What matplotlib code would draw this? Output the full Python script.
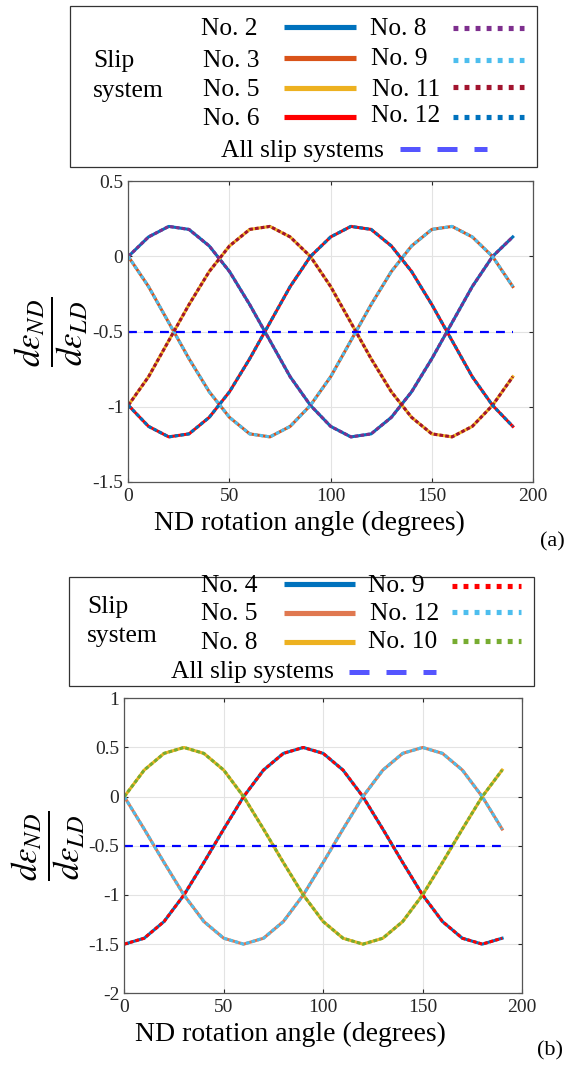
import matplotlib
matplotlib.use('Agg')
import matplotlib.pyplot as plt
from matplotlib.lines import Line2D
from matplotlib.patches import Rectangle
from matplotlib.ticker import FormatStrFormatter

plt.rcParams['font.family'] = ['Liberation Serif', 'DejaVu Serif']
plt.rcParams['mathtext.fontset'] = 'stix'
plt.rcParams['axes.unicode_minus'] = False

# ---------------- data ----------------
angles = [0, 10, 20, 30, 40, 50, 60, 70, 80, 90,
          100, 110, 120, 130, 140, 150, 160, 170, 180, 190]

# panel (a)
a_no2 = [0.00, 0.13, 0.20, 0.18, 0.07, -0.10, -0.32, -0.56, -0.80, -0.99,
         -1.13, -1.20, -1.18, -1.07, -0.90, -0.68, -0.44, -0.20, 0.00, 0.13]
a_no8 = [0.00, 0.13, 0.20, 0.18, 0.07, -0.10, -0.32, -0.56, -0.80, -0.99,
         -1.13, -1.20, -1.18, -1.07, -0.90, -0.68, -0.44, -0.20, 0.00, 0.13]
a_no3 = [0.00, -0.20, -0.44, -0.68, -0.90, -1.07, -1.18, -1.20, -1.13, -0.99,
         -0.80, -0.56, -0.32, -0.10, 0.07, 0.18, 0.20, 0.13, 0.00, -0.20]
a_no9 = [0.00, -0.20, -0.44, -0.68, -0.90, -1.07, -1.18, -1.20, -1.13, -0.99,
         -0.80, -0.56, -0.32, -0.10, 0.07, 0.18, 0.20, 0.13, 0.00, -0.20]
a_no5 = [-0.99, -0.80, -0.56, -0.32, -0.10, 0.07, 0.18, 0.20, 0.13, 0.00,
         -0.20, -0.44, -0.68, -0.90, -1.07, -1.18, -1.20, -1.13, -0.99, -0.80]
a_no11 = [-0.99, -0.80, -0.56, -0.32, -0.10, 0.07, 0.18, 0.20, 0.13, 0.00,
          -0.20, -0.44, -0.68, -0.90, -1.07, -1.18, -1.20, -1.13, -0.99, -0.80]
a_no6 = [-0.99, -1.13, -1.20, -1.18, -1.07, -0.90, -0.68, -0.44, -0.20, 0.00,
         0.13, 0.20, 0.18, 0.07, -0.10, -0.32, -0.56, -0.80, -0.99, -1.13]
a_no12 = [-0.99, -1.13, -1.20, -1.18, -1.07, -0.90, -0.68, -0.44, -0.20, 0.00,
          0.13, 0.20, 0.18, 0.07, -0.10, -0.32, -0.56, -0.80, -0.99, -1.13]
a_all = [-0.5] * 20

# panel (b)
b_no4 = [-1.50, -1.44, -1.27, -1.00, -0.67, -0.33, 0.00, 0.27, 0.44, 0.50,
         0.44, 0.27, 0.00, -0.33, -0.67, -1.00, -1.27, -1.44, -1.50, -1.44]
b_no9 = [-1.50, -1.44, -1.27, -1.00, -0.67, -0.33, 0.00, 0.27, 0.44, 0.50,
         0.44, 0.27, 0.00, -0.33, -0.67, -1.00, -1.27, -1.44, -1.50, -1.44]
b_no5 = [0.00, -0.33, -0.67, -1.00, -1.27, -1.44, -1.50, -1.44, -1.27, -1.00,
         -0.67, -0.33, 0.00, 0.27, 0.44, 0.50, 0.44, 0.27, 0.00, -0.33]
b_no12 = [0.00, -0.33, -0.67, -1.00, -1.27, -1.44, -1.50, -1.44, -1.27, -1.00,
          -0.67, -0.33, 0.00, 0.27, 0.44, 0.50, 0.44, 0.27, 0.00, -0.33]
b_no8 = [0.00, 0.27, 0.44, 0.50, 0.44, 0.27, 0.00, -0.33, -0.67, -1.00,
         -1.27, -1.44, -1.50, -1.44, -1.27, -1.00, -0.67, -0.33, 0.00, 0.27]
b_no10 = [0.00, 0.27, 0.44, 0.50, 0.44, 0.27, 0.00, -0.33, -0.67, -1.00,
          -1.27, -1.44, -1.50, -1.44, -1.27, -1.00, -0.67, -0.33, 0.00, 0.27]
b_all = [-0.5] * 20

a_xticks = [0, 50, 100, 150, 200]
a_yticks = [-1.5, -1, -0.5, 0, 0.5]
b_xticks = [0, 50, 100, 150, 200]
b_yticks = [-2, -1.5, -1, -0.5, 0, 0.5, 1]

xlabel = 'ND rotation angle (degrees)'
ylabel = r'$\dfrac{d\varepsilon_{ND}}{d\varepsilon_{LD}}$'

# ---------------- styles ----------------
BLUE = '#0072BD'
ORANGE = '#D95319'
ORANGE_B = '#E07850'
YELLOW = '#EDB120'
PURPLE = '#7E2F8E'
GREEN = '#77AC30'
LBLUE = '#4DBEEE'
DRED = '#A2142F'
RED = '#FF0000'
ALLC = '#0000FF'
ALLC_LEG = '#5555FF'

W, H = 568, 1066
fig = plt.figure(figsize=(W / 100, H / 100), dpi=100)

LW = 2.2
DOT = (0, (1.2, 0.7))


def setup_axes(ax, xticks, yticks, ylim):
    ax.set_xlim(0, 200)
    ax.set_ylim(*ylim)
    ax.set_xticks(xticks)
    ax.set_yticks(yticks)
    ax.xaxis.set_major_formatter(FormatStrFormatter('%g'))
    ax.yaxis.set_major_formatter(FormatStrFormatter('%g'))
    ax.grid(True, color='#E3E3E3', lw=0.8)
    ax.set_axisbelow(True)
    ax.tick_params(direction='in', length=3, width=0.8, top=True, right=True,
                   labelsize=14, colors='#262626')
    ax.tick_params(axis='x', pad=4)
    ax.tick_params(axis='y', pad=3.5)
    for s in ax.spines.values():
        s.set_color('#555555')
        s.set_linewidth(0.9)


def pix_axes(left, top, right, bottom):
    return fig.add_axes([left / W, 1 - bottom / H, (right - left) / W, (bottom - top) / H])


# ---- panel (a) ----
axa = pix_axes(128.3, 181.3, 533.0, 482.0)
setup_axes(axa, a_xticks, a_yticks, (-1.5, 0.5))
axa.plot(angles, a_no2, color=BLUE, lw=LW)
axa.plot(angles, a_no3, color=ORANGE, lw=LW)
axa.plot(angles, a_no5, color=YELLOW, lw=LW)
axa.plot(angles, a_no6, color=RED, lw=LW)
axa.plot(angles, a_no8, color=PURPLE, lw=LW, ls=DOT)
axa.plot(angles, a_no9, color=LBLUE, lw=LW, ls=DOT)
axa.plot(angles, a_no11, color=DRED, lw=LW, ls=DOT)
axa.plot(angles, a_no12, color=BLUE, lw=LW, ls=DOT)
axa.plot(angles, a_all, color=ALLC, lw=1.6, ls=(0, (4.0, 3.2)))
axa.set_xlabel(xlabel, fontsize=20)
axa.xaxis.set_label_coords((309.5 - 128.3) / 404.7, (482.0 - 523.5) / 300.7)
axa.xaxis.label.set_va('center')
axa.set_ylabel(ylabel, fontsize=25)
axa.yaxis.set_label_coords((51 - 128.3) / 404.7, 0.5)
axa.yaxis.label.set_va('center')

# ---- panel (b) ----
axb = pix_axes(124.3, 698.3, 522.0, 993.3)
setup_axes(axb, b_xticks, b_yticks, (-2, 1))
axb.plot(angles, b_no4, color=BLUE, lw=LW)
axb.plot(angles, b_no5, color=ORANGE_B, lw=LW)
axb.plot(angles, b_no8, color=YELLOW, lw=LW)
axb.plot(angles, b_no9, color=RED, lw=LW, ls=DOT)
axb.plot(angles, b_no12, color=LBLUE, lw=LW, ls=DOT)
axb.plot(angles, b_no10, color=GREEN, lw=LW, ls=DOT)
axb.plot(angles, b_all, color=ALLC, lw=1.6, ls=(0, (4.0, 3.2)))
axb.set_xlabel(xlabel, fontsize=20)
axb.xaxis.set_label_coords((290.5 - 124.3) / 397.7, (993.3 - 1034.7) / 295.0)
axb.xaxis.label.set_va('center')
axb.set_ylabel(ylabel, fontsize=25)
axb.yaxis.set_label_coords((48 - 124.3) / 397.7, 0.5)
axb.yaxis.label.set_va('center')

# ---- legends drawn in pixel coordinates ----
ov = fig.add_axes([0, 0, 1, 1])
ov.set_xlim(0, W)
ov.set_ylim(H, 0)
ov.axis('off')
ov.patch.set_visible(False)

LFS = 18.4
LEG_LW = 3.7
LEG_DOT = (0, (0.95, 1.2))
LEG_DASH = (0, (4.0, 3.4))


def legend_box(x0, y0, x1, y1):
    ov.add_patch(Rectangle((x0, y0), x1 - x0, y1 - y0, fill=True, facecolor='white',
                           edgecolor='#333333', lw=0.9))


def leg_text(x, y, s):
    ov.text(x, y, s, fontsize=LFS, ha='left', va='baseline', color='black')


def leg_line(x0, x1, y, color, ls, lw=LEG_LW):
    ov.add_line(Line2D([x0, x1], [y, y], color=color, lw=lw, ls=ls,
                       solid_capstyle='butt', dash_capstyle='butt'))


# legend (a)
legend_box(70, 6, 537, 167)
leg_text(93, 66.5, 'Slip')
leg_text(93, 96.5, 'system')
for lbl, lx, by, ly, c in [('No. 2', 200.7, 35.0, 26.7, BLUE),
                           ('No. 3', 203.0, 66.7, 57.7, ORANGE),
                           ('No. 5', 203.0, 95.7, 87.7, YELLOW),
                           ('No. 6', 203.0, 125.0, 116.7, RED)]:
    leg_text(lx, by, lbl)
    leg_line(284, 356, ly, c, '-')
for lbl, lx, by, ly, c in [('No. 8', 369.7, 35.0, 28.3, PURPLE),
                           ('No. 9', 371.0, 65.0, 60.0, LBLUE),
                           ('No. 11', 371.7, 96.0, 86.7, DRED),
                           ('No. 12', 371.0, 121.7, 117.3, BLUE)]:
    leg_text(lx, by, lbl)
    leg_line(453, 524, ly, c, LEG_DOT)
leg_text(220.7, 156.7, 'All slip systems')
leg_line(400, 487, 149, ALLC_LEG, LEG_DASH, lw=3.6)
ov.text(552.5, 541.5, '(a)', fontsize=16, ha='center', va='center')

# legend (b)
legend_box(69, 577, 534, 686)
leg_text(87.3, 612.7, 'Slip')
leg_text(87.3, 642.3, 'system')
for lbl, lx, by, ly, c in [('No. 4', 200.7, 591.7, 584.0, BLUE),
                           ('No. 5', 201.3, 620.0, 613.3, ORANGE_B),
                           ('No. 8', 201.0, 649.0, 642.3, YELLOW)]:
    leg_text(lx, by, lbl)
    leg_line(283.7, 354.7, ly, c, '-')
for lbl, lx, by, ly, c in [('No. 9', 368.0, 591.7, 585.7, RED),
                           ('No. 12', 369.7, 620.0, 611.7, LBLUE),
                           ('No. 10', 368.0, 647.7, 641.0, GREEN)]:
    leg_text(lx, by, lbl)
    leg_line(452, 521.3, ly, c, LEG_DOT)
leg_text(171.3, 677.7, 'All slip systems')
leg_line(349, 435.7, 671.7, ALLC_LEG, LEG_DASH, lw=3.6)
ov.text(550, 1051, '(b)', fontsize=16, ha='center', va='center')

fig.savefig('out.png', dpi=100)
